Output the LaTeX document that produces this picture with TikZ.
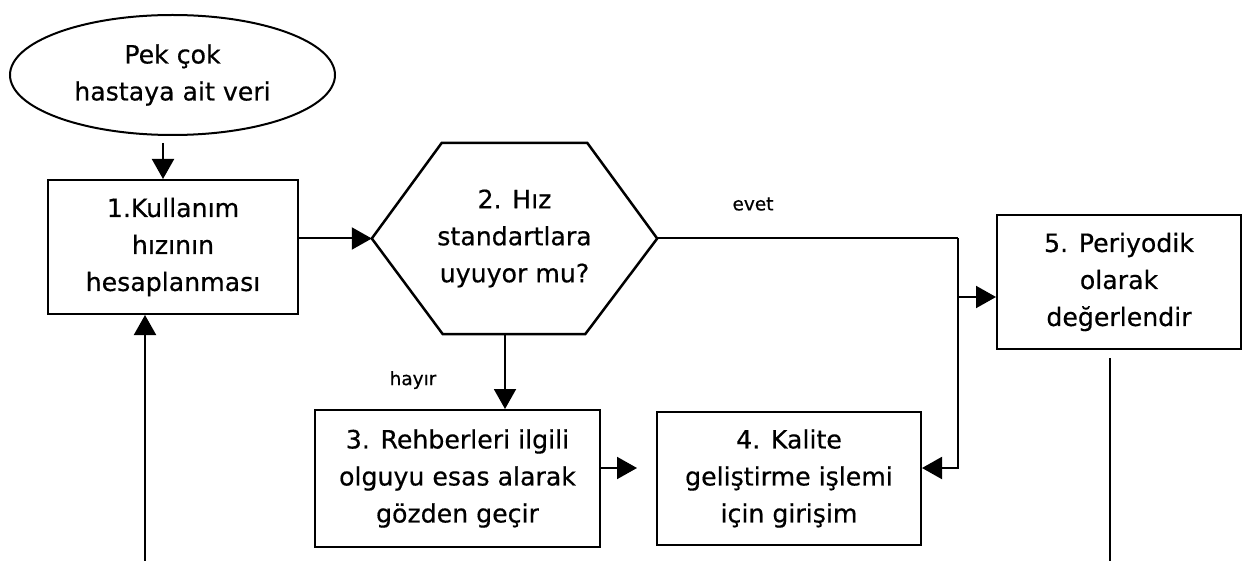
\documentclass[tikz,border=0pt]{standalone}
\usepackage{fontspec}
\setmainfont[FakeBold=0.5]{DejaVu Sans}
\usetikzlibrary{arrows.meta,shapes.geometric}
\begin{document}
\begin{tikzpicture}[x=1pt,y=-1pt,
  every node/.style={font=\fontsize{25.2}{37}\selectfont, align=center, inner sep=0pt},
  box/.style={draw, line width=2pt},
  conn/.style={line width=2pt},
  arr/.style={line width=2pt, -{Triangle[length=20pt,width=22pt]}},
  lbl/.style={font=\fontsize{18.5}{20}\selectfont}]
\useasboundingbox (0,0) rectangle (1244,561);

\node[draw, ellipse, line width=2pt, minimum width=325pt, minimum height=120pt] (ell) at (172.5,75) {Pek çok\\hastaya ait veri};
\node[box, minimum width=250pt, minimum height=134pt] (b1) at (173,247) {1.Kullanım\\hızının\\hesaplanması};
\node[minimum width=285pt, minimum height=191pt] (hex) at (514.5,238.5) {2. Hız\\standartlara\\uyuyor mu?};
\draw[line width=2.5pt, line join=miter] (hex.west) -- ([xshift=70pt]hex.north west) -- ([xshift=-70pt]hex.north east) -- (hex.east) -- ([xshift=-72pt]hex.south east) -- ([xshift=71pt]hex.south west) -- cycle;
\node[box, minimum width=285pt, minimum height=137pt] (b3) at (457.5,478.5) {3. Rehberleri ilgili\\olguyu esas alarak\\gözden geçir};
\node[box, minimum width=264pt, minimum height=133pt] (b4) at (789,478.5) {4. Kalite\\geliştirme işlemi\\için girişim};
\node[box, minimum width=244pt, minimum height=134pt] (b5) at (1119,282) {5. Periyodik\\olarak\\değerlendir};

\node[lbl] (evet) at (753,204) {evet};
\node[lbl] (hayir) at (413,380) {hayır};

\coordinate (j1) at (958,238.5);
\coordinate (j2) at (958,297);
\coordinate (bot1) at (145,561);
\coordinate (bot5) at (1110,561);

\draw[arr, shorten <=7pt] ([xshift=-9.5pt]ell.south) -- ([xshift=-10pt]b1.north);
\draw[arr] (b1.east |- hex.west) -- (hex.west);
\draw[conn] (hex.east) -- (j1);
\draw[arr] (j1) |- ([yshift=10.5pt]b4.east);
\draw[arr] (j2) -- (b5.west |- j2);
\draw[arr] ([xshift=-9.5pt]hex.south) -- ([xshift=47.5pt]b3.north);
\draw[arr, shorten >=19pt] ([yshift=10.5pt]b3.east) -- ([yshift=10.5pt]b4.west);
\draw[arr] (bot1) -- (b1.south -| bot1);
\draw[conn, shorten <=8pt] (b5.south -| bot5) -- (bot5);
\end{tikzpicture}
\end{document}
